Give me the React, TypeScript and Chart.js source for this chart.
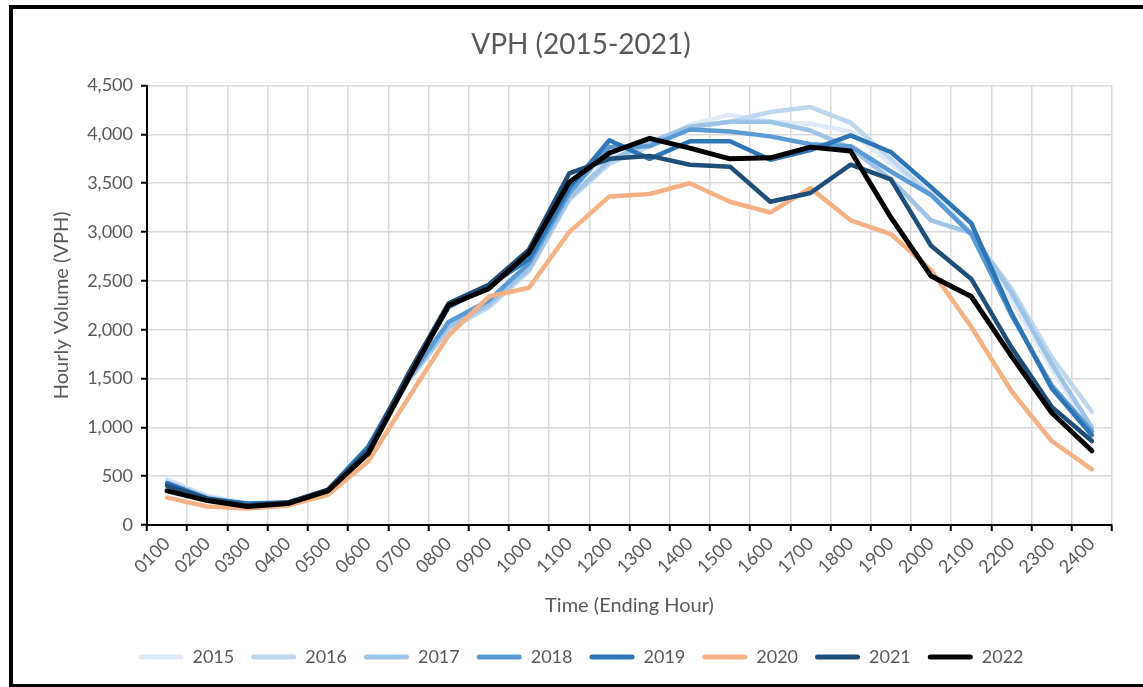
import React, { useEffect, useRef } from "react";
import { Chart, registerables } from "chart.js";

Chart.register(...registerables);

const hours = [
  "0100", "0200", "0300", "0400", "0500", "0600", "0700", "0800", "0900", "1000", "1100", "1200",
  "1300", "1400", "1500", "1600", "1700", "1800", "1900", "2000", "2100", "2200", "2300", "2400",
];

const v2015 = [470, 300, 220, 230, 350, 780, 1500, 2050, 2280, 2650, 3380, 3760, 3900, 4100, 4200, 4130, 4110, 4030, 3700, 3400, 3000, 2300, 1600, 950];
const v2016 = [450, 290, 210, 230, 350, 770, 1480, 2000, 2230, 2600, 3330, 3700, 3880, 4070, 4130, 4230, 4280, 4120, 3750, 3380, 2980, 2420, 1720, 1160];
const v2017 = [430, 280, 210, 220, 350, 780, 1480, 2030, 2260, 2620, 3350, 3730, 3920, 4080, 4130, 4130, 4040, 3860, 3540, 3120, 2990, 2380, 1650, 1000];
const v2018 = [410, 270, 210, 230, 360, 790, 1500, 2080, 2300, 2680, 3400, 3870, 3880, 4050, 4030, 3980, 3900, 3880, 3620, 3380, 2980, 2150, 1430, 960];
const v2019 = [430, 270, 220, 230, 360, 800, 1530, 2230, 2450, 2720, 3450, 3940, 3750, 3930, 3930, 3740, 3840, 3990, 3820, 3460, 3090, 2170, 1400, 920];
const v2020 = [280, 190, 170, 200, 310, 650, 1300, 1940, 2340, 2430, 3000, 3365, 3390, 3500, 3310, 3200, 3450, 3120, 2980, 2610, 2030, 1370, 860, 570];
const v2021 = [400, 270, 200, 230, 360, 760, 1550, 2270, 2460, 2820, 3600, 3750, 3780, 3690, 3670, 3310, 3400, 3690, 3540, 2860, 2520, 1820, 1210, 860];
const v2022 = [350, 250, 190, 220, 350, 730, 1500, 2250, 2420, 2790, 3510, 3810, 3960, 3860, 3750, 3760, 3870, 3830, 3150, 2550, 2340, 1730, 1150, 760];

const seriesNames = ["2015", "2016", "2017", "2018", "2019", "2020", "2021", "2022"];
const seriesValues = [v2015, v2016, v2017, v2018, v2019, v2020, v2021, v2022];
const seriesColors = ["#deebf7", "#bdd7ee", "#9dc3e6", "#5b9bd5", "#2e75b6", "#f4b183", "#1f4e79", "#000000"];

const yTicksMax = 4500;
const yStep = 500;

const FONT = "Lato, 'Open Sans', sans-serif";
const GRAY = "#595959";

export default function App() {
  const canvasRef = useRef<HTMLCanvasElement | null>(null);

  useEffect(() => {
    const canvas = canvasRef.current;
    if (!canvas) return;
    const n = seriesNames.length;
    const chart = new Chart(canvas, {
      type: "line",
      data: {
        labels: hours,
        datasets: seriesNames.map((name, i) => ({
          label: name,
          data: seriesValues[i],
          borderColor: seriesColors[i],
          backgroundColor: seriesColors[i],
          borderWidth: i === n - 1 ? 5 : 4.5,
          pointRadius: 0,
          pointHoverRadius: 0,
          tension: 0,
          borderJoinStyle: "round" as const,
          borderCapStyle: "round" as const,
          fill: false,
          order: n - 1 - i,
          yAxisID: "y",
        })),
      },
      options: {
        animation: false,
        responsive: false,
        devicePixelRatio: 1,
        layout: { padding: { left: 0, right: 0, top: 0, bottom: 24 } },
        plugins: {
          tooltip: { enabled: false },
          title: {
            display: true,
            text: "VPH (2015-2021)",
            color: GRAY,
            font: { family: FONT, size: 28, weight: "normal" },
            padding: { top: 28, bottom: 24 },
          },
          legend: {
            display: true,
            position: "bottom",
            labels: {
              color: GRAY,
              font: { family: FONT, size: 18 },
              boxWidth: 45,
              boxHeight: 5,
              padding: 17,
              useBorderRadius: true,
              borderRadius: 2.5,
              generateLabels: (ch: any) =>
                ch.data.datasets.map((ds: any, i: number) => ({
                  text: ds.label,
                  fillStyle: ds.borderColor,
                  strokeStyle: ds.borderColor,
                  lineWidth: 0,
                  hidden: false,
                  datasetIndex: i,
                  fontColor: GRAY,
                  borderRadius: 2.5,
                })),
            },
          },
        },
        scales: {
          x: {
            type: "category",
            offset: true,
            grid: {
              display: true,
              offset: true,
              color: "#d9d9d9",
              lineWidth: 1.5,
              drawTicks: true,
              tickLength: 6,
              tickColor: "#000000",
              tickWidth: 2,
            },
            border: { display: true, color: "#000000", width: 2 },
            ticks: {
              color: GRAY,
              font: { family: FONT, size: 18 },
              maxRotation: 45,
              minRotation: 45,
              autoSkip: false,
              padding: 2,
            },
            title: {
              display: true,
              text: "Time (Ending Hour)",
              color: GRAY,
              font: { family: FONT, size: 20 },
              padding: { top: 0, bottom: 13 },
            },
            afterFit: (scale: any) => {
              scale.height = 106;
            },
          },
          y: {
            type: "linear",
            position: "left",
            min: 0,
            max: yTicksMax,
            ticks: {
              stepSize: yStep,
              color: GRAY,
              font: { family: FONT, size: 18 },
              padding: 8,
              callback: (v: any) => Number(v).toLocaleString("en-US"),
            },
            grid: {
              color: "#d9d9d9",
              lineWidth: 1.5,
              tickLength: 6,
              tickColor: "#000000",
              tickWidth: 2,
            },
            border: { display: true, color: "#000000", width: 2 },
            title: {
              display: true,
              text: "Hourly Volume (VPH)",
              color: GRAY,
              font: { family: FONT, size: 20 },
              padding: { top: 50, bottom: 0 },
            },
            afterFit: (scale: any) => {
              scale.width = 147;
            },
          },
          spacer: {
            type: "linear",
            position: "right",
            display: true,
            grid: { display: false, drawTicks: false },
            border: { display: false },
            ticks: { display: false },
            afterFit: (scale: any) => {
              scale.width = 50;
            },
          },
        },
      },
    } as any);
    return () => chart.destroy();
  }, []);

  return (
    <div style={{ position: "fixed", left: 0, top: 0, width: 1143, height: 687, overflow: "hidden", background: "#ffffff" }}>
      <canvas ref={canvasRef} width={1162} height={700} style={{ position: "absolute", left: 0, top: 0, width: 1162, height: 700 }} />
      <div
        style={{
          position: "absolute",
          left: 9,
          top: 5,
          width: 1200,
          height: 683,
          boxSizing: "border-box",
          border: "4px solid #000000",
          pointerEvents: "none",
        }}
      />
    </div>
  );
}
